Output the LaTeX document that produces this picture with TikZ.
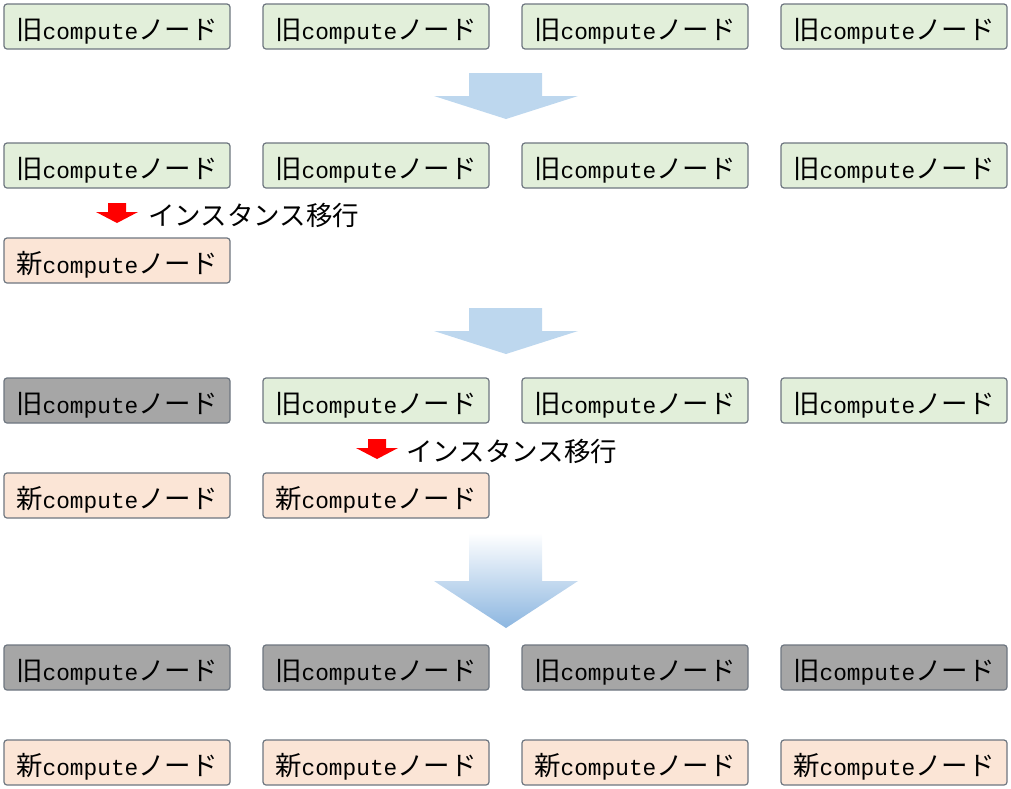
\documentclass[tikz,border=0pt]{standalone}
\usepackage{fontspec}
\newfontfamily\jpf{Noto Sans CJK JP}
\newfontfamily\monof{Liberation Mono}
\definecolor{oldfill}{RGB}{226,239,218}
\definecolor{newfill}{RGB}{251,229,214}
\definecolor{donefill}{RGB}{166,166,166}
\definecolor{boxline}{RGB}{110,118,128}
\definecolor{bigarrow}{RGB}{189,215,238}
\definecolor{bigarrowdark}{RGB}{140,182,224}
\definecolor{redarrow}{RGB}{255,0,0}
\newcommand{\oldtxt}{\raisebox{-12.5pt}[0pt][0pt]{{\jpf\fontsize{26.5}{27}\selectfont 旧}{\monof\fontsize{22.8}{27}\selectfont compute}{\jpf\fontsize{26.5}{27}\selectfont ノード}}}
\newcommand{\newtxt}{\raisebox{-12.5pt}[0pt][0pt]{{\jpf\fontsize{26.5}{27}\selectfont 新}{\monof\fontsize{22.8}{27}\selectfont compute}{\jpf\fontsize{26.5}{27}\selectfont ノード}}}
\tikzset{
  nodebox/.style={draw=boxline, line width=1.2pt, rounded corners=3pt, minimum width=226pt, minimum height=45pt, inner sep=0pt, anchor=center},
  oldbox/.style={nodebox, fill=oldfill},
  newbox/.style={nodebox, fill=newfill},
  donebox/.style={nodebox, fill=donefill},
  migtext/.style={font=\jpf\fontsize{26.5}{27}\selectfont, anchor=west, inner sep=0pt}
}
\begin{document}
\begin{tikzpicture}[x=1pt,y=-1pt]
\useasboundingbox (0,0) rectangle (1011,788);
% row 1
\node[oldbox] (a1) at (117,26.5) {\oldtxt};
\node[oldbox] (a2) at (376,26.5) {\oldtxt};
\node[oldbox] (a3) at (635,26.5) {\oldtxt};
\node[oldbox] (a4) at (894,26.5) {\oldtxt};
% big arrow 1
\fill[bigarrow] (469,73) -- (542,73) -- (542,96) -- (578,96) -- (506,119) -- (434,96) -- (469,96) -- cycle;
% row 2
\node[oldbox] (b1) at (117,165.5) {\oldtxt};
\node[oldbox] (b2) at (376,165.5) {\oldtxt};
\node[oldbox] (b3) at (635,165.5) {\oldtxt};
\node[oldbox] (b4) at (894,165.5) {\oldtxt};
\fill[redarrow] (108,203) -- (126,203) -- (126,212) -- (138,212) -- (117,223) -- (96,212) -- (108,212) -- cycle;
\node[migtext] (m1) at (148,215.5) {インスタンス移行};
\node[newbox] (c1) at (117,260.5) {\newtxt};
% big arrow 2
\fill[bigarrow] (469,308) -- (542,308) -- (542,331) -- (578,331) -- (506,354) -- (434,331) -- (469,331) -- cycle;
% row 4
\node[donebox] (d1) at (117,400.5) {\oldtxt};
\node[oldbox] (d2) at (376,400.5) {\oldtxt};
\node[oldbox] (d3) at (635,400.5) {\oldtxt};
\node[oldbox] (d4) at (894,400.5) {\oldtxt};
\fill[redarrow] (368,439) -- (386,439) -- (386,448) -- (398,448) -- (377,459) -- (356,448) -- (368,448) -- cycle;
\node[migtext] (m2) at (406,451.5) {インスタンス移行};
\node[newbox] (e1) at (117,495.5) {\newtxt};
\node[newbox] (e2) at (376,495.5) {\newtxt};
% big arrow 3
\shade[top color=white, bottom color=bigarrowdark] (469,533) -- (542,533) -- (542,581) -- (578,581) -- (506,628) -- (434,581) -- (469,581) -- cycle;
% row 6
\node[donebox] (f1) at (117,667.5) {\oldtxt};
\node[donebox] (f2) at (376,667.5) {\oldtxt};
\node[donebox] (f3) at (635,667.5) {\oldtxt};
\node[donebox] (f4) at (894,667.5) {\oldtxt};
% row 7
\node[newbox] (g1) at (117,762.5) {\newtxt};
\node[newbox] (g2) at (376,762.5) {\newtxt};
\node[newbox] (g3) at (635,762.5) {\newtxt};
\node[newbox] (g4) at (894,762.5) {\newtxt};
\end{tikzpicture}
\end{document}
